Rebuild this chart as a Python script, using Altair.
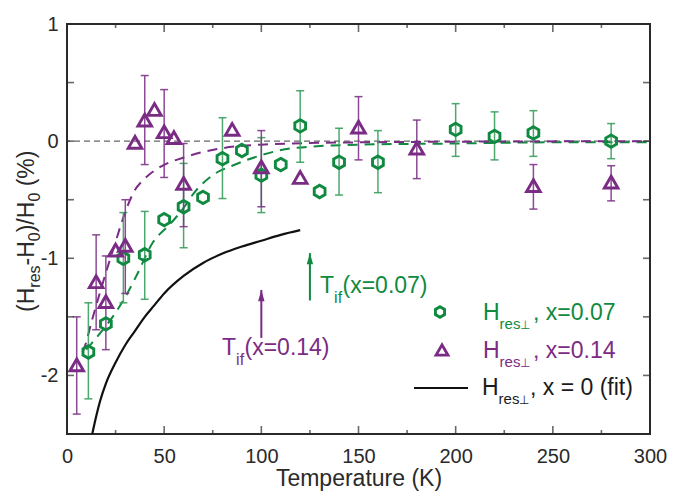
import altair as alt
import pandas as pd

FONT = "Liberation Sans"

# ---------------- data ----------------
# x = 0.07 (green hexagons)
g_T = [11, 20, 29, 40, 50, 60, 70, 80, 90, 100, 110, 120, 130, 140, 160, 200, 220, 240, 280]
g_V = [-1.80, -1.56, -1.00, -0.97, -0.67, -0.56, -0.48, -0.15, -0.08, -0.29, -0.20, 0.13,
       -0.43, -0.18, -0.18, 0.10, 0.04, 0.07, 0.00]
g_lo = [-2.20, None, -1.38, -1.35, None, -0.91, None, -0.49, None, -0.61, None, -0.18,
        None, -0.46, -0.44, -0.13, -0.16, -0.13, -0.15]
g_hi = [-1.38, None, -0.61, -0.60, None, -0.19, None, 0.20, None, 0.03, None, 0.43,
        None, 0.11, 0.09, 0.32, 0.25, 0.26, 0.15]

# x = 0.14 (purple triangles)
p_T = [5, 15, 20, 25, 30, 35, 40, 45, 50, 55, 60, 85, 100, 120, 150, 180, 240, 280]
p_V = [-1.91, -1.20, -1.37, -0.93, -0.89, -0.01, 0.18, 0.27, 0.08, 0.03, -0.36, 0.10,
       -0.22, -0.31, 0.12, -0.06, -0.38, -0.35]
p_lo = [-2.33, -1.61, -1.78, None, -1.30, None, -0.20, None, -0.31, None, -0.73, None,
        -0.56, None, -0.16, -0.32, -0.58, -0.51]
p_hi = [-1.50, -0.80, -0.98, None, -0.50, None, 0.56, None, 0.44, None, -0.02, None,
        0.09, None, 0.38, 0.18, -0.20, -0.21]

# fitted curves
gfit_T = [10, 13, 18, 23.5, 31, 36, 44, 53.5, 60, 65, 75, 85, 100, 116, 150, 200, 250, 300]
gfit_V = [-1.78, -1.72, -1.62, -1.50, -1.30, -1.14, -0.87, -0.70, -0.57, -0.45, -0.29,
          -0.21, -0.12, -0.06, -0.03, -0.02, -0.01, -0.01]
pfit_T = [8, 9, 13, 17, 21, 25, 28, 31, 34.5, 40, 48, 60, 80, 100, 150, 200, 300]
pfit_V = [-1.80, -1.76, -1.52, -1.29, -1.07, -0.86, -0.70, -0.56, -0.43, -0.32, -0.22,
          -0.14, -0.06, -0.03, -0.01, -0.005, 0.0]
bfit_T = [12.6, 15, 17, 20, 25, 30, 35, 40, 45, 50, 60, 70, 80, 90, 100, 110, 120]
bfit_V = [-2.53, -2.35, -2.22, -2.07, -1.89, -1.74, -1.62, -1.50, -1.40, -1.30, -1.15,
          -1.04, -0.96, -0.90, -0.85, -0.80, -0.76]

# T_if arrows
tif_T = [125, 100]
tif_lo = [-1.36, -1.68]
tif_hi = [-0.956, -1.27]

# axis ticks
x_labels = [0, 50, 100, 150, 200, 250, 300]
x_minor = [25, 75, 125, 175, 225, 275]
y_labels = [-2, -1, 0, 1]
y_ticks = [-2.5, -2, -1.5, -1, -0.5, 0, 0.5, 1]

# ---------------- styling ----------------
GREEN = "#0f8a40"
GREEN_BAR = "#3a9e5e"
PURPLE = "#7a2c85"
PURPLE_BAR = "#7f3589"
AX = "#2a2a2a"
HEX = "M0,-1L0.866,-0.5L0.866,0.5L0,1L-0.866,0.5L-0.866,-0.5Z"
HEAD = "M0,-1L0.45,0.6L-0.45,0.6Z"

XS = alt.Scale(domain=[0, 300], nice=False, zero=False)
YS = alt.Scale(domain=[-2.5, 1], nice=False, zero=False)
XA = alt.Axis(values=x_labels, ticks=False, domain=False, grid=False, labelFontSize=20,
              labelFont=FONT, labelColor=AX, labelPadding=12, labelFlush=False,
              labelOverlap=False, format="d", title="Temperature (K)", titleFontSize=23,
              titleFont=FONT, titleFontWeight="normal", titleColor=AX,
              titleBaseline="alphabetic", titleY=51)
YA = alt.Axis(values=y_labels, ticks=False, domain=False, grid=False, labelFontSize=20,
              labelFont=FONT, labelColor=AX, labelPadding=9, labelFlush=False,
              labelOverlap=False, title=None,
              labelExpr="datum.value < 0 ? '-' + abs(datum.value) : '' + datum.value")


def X(f):
    return alt.X(f, type="quantitative", scale=XS, axis=XA)


def Y(f):
    return alt.Y(f, type="quantitative", scale=YS, axis=YA)


gdf = pd.DataFrame({"T": g_T, "V": g_V, "lo": g_lo, "hi": g_hi})
pdf = pd.DataFrame({"T": p_T, "V": p_V, "lo": p_lo, "hi": p_hi})
gerr = gdf.dropna()
perr = pdf.dropna()
gcap = pd.DataFrame({"T": list(gerr["T"]) * 2, "c": list(gerr["lo"]) + list(gerr["hi"])})
pcap = pd.DataFrame({"T": list(perr["T"]) * 2, "c": list(perr["lo"]) + list(perr["hi"])})

layers = []

# zero reference line
layers.append(alt.Chart(pd.DataFrame({"v": [0]})).mark_rule(
    color="#666666", strokeDash=[6, 4], strokeWidth=1.4).encode(y=Y("v")))

# fits
layers.append(alt.Chart(pd.DataFrame({"T": bfit_T, "V": bfit_V})).mark_line(
    color="#111111", strokeWidth=2.2, clip=True, interpolate="monotone").encode(x=X("T"), y=Y("V")))
layers.append(alt.Chart(pd.DataFrame({"T": gfit_T, "V": gfit_V})).mark_line(
    color=GREEN, strokeWidth=2, strokeDash=[10, 7], interpolate="monotone").encode(x=X("T"), y=Y("V")))
layers.append(alt.Chart(pd.DataFrame({"T": pfit_T, "V": pfit_V})).mark_line(
    color=PURPLE, strokeWidth=2, strokeDash=[10, 7], interpolate="monotone").encode(x=X("T"), y=Y("V")))

# error bars
layers.append(alt.Chart(gerr).mark_rule(color=GREEN_BAR, strokeWidth=1.5, opacity=0.9).encode(
    x=X("T"), y=Y("lo"), y2="hi"))
layers.append(alt.Chart(gcap).mark_tick(orient="horizontal", size=8, thickness=1.5,
                                        color=GREEN_BAR, opacity=0.9).encode(x=X("T"), y=Y("c")))
layers.append(alt.Chart(perr).mark_rule(color=PURPLE_BAR, strokeWidth=1.5, opacity=0.9).encode(
    x=X("T"), y=Y("lo"), y2="hi"))
layers.append(alt.Chart(pcap).mark_tick(orient="horizontal", size=8, thickness=1.5,
                                        color=PURPLE_BAR, opacity=0.9).encode(x=X("T"), y=Y("c")))

# markers
layers.append(alt.Chart(gdf).mark_point(shape=HEX, size=155, filled=False, strokeWidth=2.9,
                                        color=GREEN, opacity=1).encode(x=X("T"), y=Y("V")))
layers.append(alt.Chart(pdf).mark_point(shape="triangle-up", size=185, filled=False,
                                        strokeWidth=2.9, color=PURPLE, opacity=1).encode(x=X("T"), y=Y("V")))

# T_if arrows
for i, col in enumerate([GREEN, PURPLE]):
    adf = pd.DataFrame({"T": [tif_T[i]], "lo": [tif_lo[i]], "hi": [tif_hi[i]]})
    layers.append(alt.Chart(adf).mark_rule(color=col, strokeWidth=2).encode(
        x=X("T"), y=Y("lo"), y2="hi"))
    layers.append(alt.Chart(adf).mark_point(shape=HEAD, size=200, filled=True, color=col,
                                            opacity=1, yOffset=7).encode(x=X("T"), y=Y("hi")))

# inward frame ticks
def tick_layer(vals, fixed, orient, size, off):
    if orient == "vertical":
        df = pd.DataFrame({"a": vals, "b": [fixed] * len(vals)})
        return alt.Chart(df).mark_tick(orient="vertical", size=size, thickness=1.6, color=AX,
                                       yOffset=off).encode(x=X("a"), y=Y("b"))
    df = pd.DataFrame({"a": [fixed] * len(vals), "b": vals})
    return alt.Chart(df).mark_tick(orient="horizontal", size=size, thickness=1.6, color=AX,
                                   xOffset=off).encode(x=X("a"), y=Y("b"))


layers.append(tick_layer(x_labels, -2.5, "vertical", 8, -4))
layers.append(tick_layer(x_minor, -2.5, "vertical", 4, -2))
layers.append(tick_layer(x_labels, 1, "vertical", 8, 4))
layers.append(tick_layer(x_minor, 1, "vertical", 4, 2))
layers.append(tick_layer(y_ticks, 0, "horizontal", 7, 3.5))
layers.append(tick_layer(y_ticks, 300, "horizontal", 7, -3.5))

# legend symbols
one = pd.DataFrame({"a": [0]})
layers.append(alt.Chart(one).mark_point(shape=HEX, size=110, filled=False, strokeWidth=2.9,
                                        color=GREEN, opacity=1).encode(x=alt.value(373), y=alt.value(288)))
layers.append(alt.Chart(one).mark_point(shape="triangle-up", size=140, filled=False, strokeWidth=2.9,
                                        color=PURPLE, opacity=1).encode(x=alt.value(375), y=alt.value(326)))
layers.append(alt.Chart(one).mark_rule(color="#111111", strokeWidth=2).encode(
    x=alt.value(347), x2=alt.value(401), y=alt.value(364)))

# text pieces: (text, x, y, size, color, angle)
texts = [
    # y-axis title
    ("(H", -33, 288, 23, AX, 270),
    ("res", -27, 263.7, 16, AX, 270),
    ("-H", -33, 241.5, 23, AX, 270),
    ("0", -27, 217.2, 16, AX, 270),
    (")/H", -33, 208.3, 23, AX, 270),
    ("0", -27, 177.6, 16, AX, 270),
    ("(%)", -33, 162.3, 23, AX, 270),
    # T_if labels
    ("T", 253, 269, 23, GREEN, 0),
    ("if", 267.1, 279, 16, GREEN, 0),
    ("(x=0.07)", 275.5, 269, 23, GREEN, 0),
    ("T", 155, 331, 23, PURPLE, 0),
    ("if", 169.1, 341, 16, PURPLE, 0),
    ("(x=0.14)", 177.5, 331, 23, PURPLE, 0),
    # legend
    ("H", 416, 296, 23, GREEN, 0),
    ("res", 432.6, 305, 15, GREEN, 0),
    ("\u22a5", 453.2, 305, 12, GREEN, 0),
    (", x=0.07", 466, 296, 23, GREEN, 0),
    ("H", 416, 334, 23, PURPLE, 0),
    ("res", 432.6, 343, 15, PURPLE, 0),
    ("\u22a5", 453.2, 343, 12, PURPLE, 0),
    (", x=0.14", 466, 334, 23, PURPLE, 0),
    ("H", 415, 371, 23, "#1a1a1a", 0),
    ("res", 431.6, 380, 15, "#1a1a1a", 0),
    ("\u22a5", 452.2, 380, 12, "#1a1a1a", 0),
    (", x = 0 (fit)", 463, 371, 23, "#1a1a1a", 0),
]
for t, px, py, fs, col, ang in texts:
    kw = dict(align="left", baseline="alphabetic", fontSize=fs, font=FONT, color=col)
    if ang:
        kw["angle"] = ang
    layers.append(alt.Chart(pd.DataFrame({"s": [t]})).mark_text(**kw).encode(
        x=alt.value(px), y=alt.value(py), text=alt.Text("s:N")))

chart = alt.layer(*layers).properties(
    width=583, height=410,
    autosize=alt.AutoSizeParams(type="none"),
    padding={"left": 59, "top": 16, "right": 27, "bottom": 58},
    background="white",
).configure_view(stroke=AX, strokeWidth=2)

chart.save("out.html", embed_options={"renderer": "svg", "actions": False})
